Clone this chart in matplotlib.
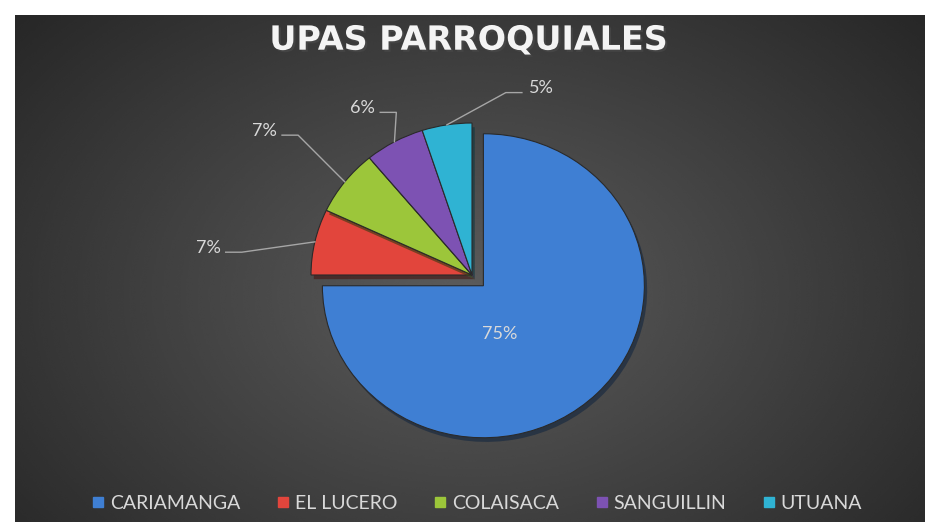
import numpy as np
import matplotlib.pyplot as plt
import matplotlib.patheffects as pe
from matplotlib.lines import Line2D

categorias = ['CARIAMANGA', 'EL LUCERO', 'COLAISACA', 'SANGUILLIN', 'UTUANA']
porcentajes = [75, 7, 7, 6, 5]
colores = ['#3f7fd3', '#e2453c', '#9cc63a', '#7d52b3', '#2fb3d3']
separacion = [0.1, 0, 0, 0, 0]

# posiciones de las etiquetas (unidades del eje, radio = 1)
pos_etiquetas = [(0.10, -0.32), (-1.64, 0.18), (-1.29, 0.95), (-0.68, 1.10), (0.43, 1.23)]

W, H = 925, 522
fig = plt.figure(figsize=(W / 100, H / 100), dpi=100, facecolor='white')

# fondo del panel con degradado radial
fondo = fig.add_axes([15 / W, 0, 1 - 15 / W, (H - 15) / H])
yy, xx = np.mgrid[0:300, 0:540]
d = np.sqrt(((xx - 270) / 330.0) ** 2 + ((yy - 165) / 230.0) ** 2)
gris = np.clip(0.36 - 0.19 * d, 0.15, 0.40)
fondo.imshow(gris, cmap='gray', vmin=0, vmax=1, aspect='auto', interpolation='bicubic')
fondo.axis('off')

# eje del grafico: centro del pastel en (472, 275) px
sx, sy = 161.0, 152.0
ax = fig.add_axes([0, 0, 1, 1])
ax.patch.set_alpha(0)

wedges, textos = ax.pie(porcentajes, colors=colores, startangle=90, counterclock=False,
                        explode=separacion, radius=1,
                        wedgeprops=dict(edgecolor='#2a2a2a', linewidth=0.8))
for w in wedges:
    w.set_path_effects([pe.SimplePatchShadow(offset=(2, -3), alpha=0.6), pe.Normal()])

ax.set_aspect('auto')
ax.set_xlim(-472 / sx, (W - 472) / sx)
ax.set_ylim(-(H - 275) / sy, 275 / sy)
ax.axis('off')

fuente = 'Lato'
color_txt = '#d9d9d9'

# etiqueta interior de la porcion grande
cx, cy = wedges[0].center
tx, ty = pos_etiquetas[0]
ax.text(cx + tx, cy + ty, f'{porcentajes[0]}%', color=color_txt, fontsize=13,
        family=fuente, ha='center', va='center')

for w, p, pos in zip(wedges[1:], porcentajes[1:], pos_etiquetas[1:]):
    ang = np.deg2rad((w.theta1 + w.theta2) / 2)
    cx, cy = w.center
    ex, ey = cx + np.cos(ang), cy + np.sin(ang)
    tx, ty = pos
    ax.text(tx, ty, f'{p}%', color=color_txt, fontsize=13, family=fuente,
            ha='center', va='center')
    if tx < ex:
        x0 = tx + 0.11
        codo = x0 + 0.1
    else:
        x0 = tx - 0.12
        codo = x0 - 0.1
    ax.plot([x0, codo, ex], [ty - 0.03, ty - 0.03, ey], color='#a6a6a6', lw=1)

fig.text(0.507, 0.923, 'UPAS PARROQUIALES', color='#f4f4f4', fontsize=24,
         family='DejaVu Sans', fontweight='bold', ha='center', va='center',
         path_effects=[pe.withSimplePatchShadow(offset=(1.5, -1.5), alpha=0.7)])

manijas = [Line2D([], [], marker='s', linestyle='none', markersize=7, color=c) for c in colores]
ley = fig.legend(manijas, categorias, loc='center', bbox_to_anchor=(0.516, 0.036), ncol=5,
                 frameon=False, handlelength=0.6, handletextpad=0.3, columnspacing=1.9,
                 prop=dict(family=fuente, size=14))
for t in ley.get_texts():
    t.set_color(color_txt)

fig.savefig('out.png', dpi=100, facecolor='white')
